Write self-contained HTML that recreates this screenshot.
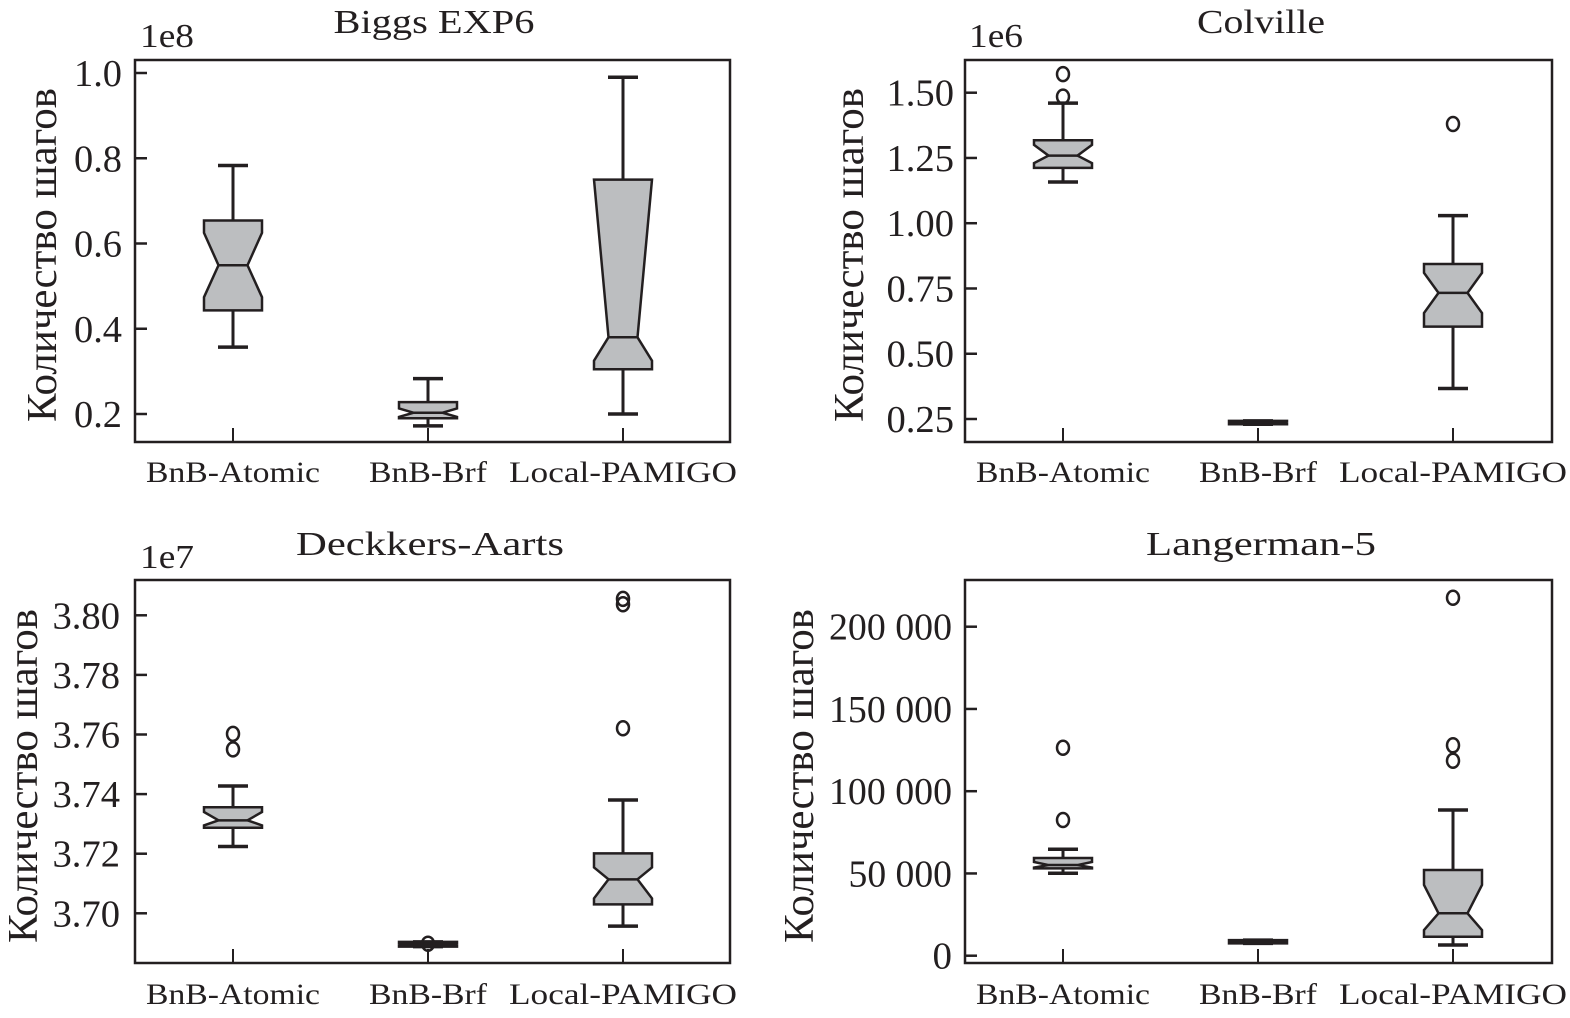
<!DOCTYPE html>
<html><head><meta charset="utf-8">
<style>
html,body{margin:0;padding:0;background:#fff;}
svg text{font-family:"Liberation Serif",serif;fill:#231f20;}
</style></head>
<body>
<svg id="fig" width="1570" height="1013" viewBox="0 0 1570 1013" xmlns="http://www.w3.org/2000/svg"></svg>
<script>
// ---- shared categories ----
const categories = ["BnB-Atomic", "BnB-Brf", "Local-PAMIGO"];

// ---- Panel 1: Biggs EXP6 (1e8) ----
const p1Whislo = [0.357, 0.172, 0.20];
const p1Q1     = [0.443, 0.190, 0.305];
const p1Med    = [0.549, 0.203, 0.380];
const p1Q3     = [0.654, 0.228, 0.750];
const p1Whishi = [0.783, 0.283, 0.990];
const p1NotchLo = [0.474, 0.193, 0.325];
const p1NotchHi = [0.625, 0.213, 0.750];
const p1Fliers = [[], [], []];
const p1Ticks = [0.2, 0.4, 0.6, 0.8, 1.0];
const p1TickLabels = ["0.2", "0.4", "0.6", "0.8", "1.0"];

// ---- Panel 2: Colville (1e6) ----
const p2Whislo = [1.158, 0.230, 0.367];
const p2Q1     = [1.212, 0.230, 0.604];
const p2Med    = [1.259, 0.236, 0.733];
const p2Q3     = [1.318, 0.243, 0.844];
const p2Whishi = [1.460, 0.243, 1.029];
const p2NotchLo = [1.230, 0.233, 0.656];
const p2NotchHi = [1.300, 0.240, 0.810];
const p2Fliers = [[1.485, 1.571], [], [1.380]];
const p2Ticks = [0.25, 0.50, 0.75, 1.00, 1.25, 1.50];
const p2TickLabels = ["0.25", "0.50", "0.75", "1.00", "1.25", "1.50"];

// ---- Panel 3: Deckkers-Aarts (1e7) ----
const p3Whislo = [3.7224, 3.6888, 3.6957];
const p3Q1     = [3.7287, 3.6888, 3.7030];
const p3Med    = [3.7312, 3.6896, 3.7114];
const p3Q3     = [3.7356, 3.6904, 3.7201];
const p3Whishi = [3.7427, 3.6904, 3.7380];
const p3NotchLo = [3.7295, 3.6892, 3.7050];
const p3NotchHi = [3.7340, 3.6900, 3.7154];
const p3Fliers = [[3.7550, 3.7602], [3.6898], [3.7621, 3.8037, 3.8055]];
const p3Ticks = [3.70, 3.72, 3.74, 3.76, 3.78, 3.80];
const p3TickLabels = ["3.70", "3.72", "3.74", "3.76", "3.78", "3.80"];

// ---- Panel 4: Langerman-5 ----
const p4Whislo = [50100, 7500, 6500];
const p4Q1     = [53100, 7500, 11550];
const p4Med    = [55100, 8500, 25800];
const p4Q3     = [59400, 9500, 52100];
const p4Whishi = [64700, 9500, 88600];
const p4NotchLo = [53600, 8000, 15600];
const p4NotchHi = [57000, 9000, 43000];
const p4Fliers = [[82500, 126400], [], [118500, 127900, 217600]];
const p4Ticks = [0, 50000, 100000, 150000, 200000];
const p4TickLabels = ["0", "50 000", "100 000", "150 000", "200 000"];

const NS = "http://www.w3.org/2000/svg";
const svg = document.getElementById("fig");
const INK = "#231f20";
function mk(tag, attrs, parent){
  const e = document.createElementNS(NS, tag);
  for (const k in attrs) e.setAttribute(k, attrs[k]);
  (parent||svg).appendChild(e);
  return e;
}
function labelWidth(s){
  let w=0; for (const c of s){ w += (c==='.')?9:(c===' ')?6:19.5; } return w;
}

const panels = [
  {key:"biggs", title:"Biggs EXP6", tx:434, ty:33, off:"1e8", ox:140, oy:47, L:135, R:730, T:60, B:442, y0:0.2, py0:414, y1:1.0, py1:73,
   ylx:56, yly:255, tickRight:122,
   wl:p1Whislo,q1:p1Q1,md:p1Med,q3:p1Q3,wh:p1Whishi,nl:p1NotchLo,nh:p1NotchHi,fl:p1Fliers,ticks:p1Ticks,tl:p1TickLabels, xlb:482},
  {key:"colville", title:"Colville", tx:1261, ty:33, off:"1e6", ox:969, oy:47, L:965, R:1552, T:60, B:442, y0:0.25, py0:419, y1:1.5, py1:92.7,
   ylx:863, yly:255, tickRight:954,
   wl:p2Whislo,q1:p2Q1,md:p2Med,q3:p2Q3,wh:p2Whishi,nl:p2NotchLo,nh:p2NotchHi,fl:p2Fliers,ticks:p2Ticks,tl:p2TickLabels, xlb:482},
  {key:"deckkers", title:"Deckkers-Aarts", tx:430, ty:555, off:"1e7", ox:140, oy:568, L:135, R:730, T:580, B:963, y0:3.70, py0:913.3, y1:3.80, py1:615.3,
   ylx:37, yly:776, tickRight:120,
   wl:p3Whislo,q1:p3Q1,md:p3Med,q3:p3Q3,wh:p3Whishi,nl:p3NotchLo,nh:p3NotchHi,fl:p3Fliers,ticks:p3Ticks,tl:p3TickLabels, xlb:1004},
  {key:"langerman", title:"Langerman-5", tx:1261, ty:555, off:"", ox:0, oy:0, L:965, R:1552, T:580, B:963, y0:0, py0:955.7, y1:200000, py1:626.7,
   ylx:813, yly:776, tickRight:952,
   wl:p4Whislo,q1:p4Q1,md:p4Med,q3:p4Q3,wh:p4Whishi,nl:p4NotchLo,nh:p4NotchHi,fl:p4Fliers,ticks:p4Ticks,tl:p4TickLabels, xlb:1004}
];
const titleW = {"Biggs EXP6":201, "Colville":128, "Deckkers-Aarts":268, "Langerman-5":230};
const xLabelW = {"BnB-Atomic":174, "BnB-Brf":118, "Local-PAMIGO":228};

panels.forEach(p => {
  const g = mk("g", {});
  
  
  const yS = v => p.py0 + (v - p.y0) * (p.py1 - p.py0) / (p.y1 - p.y0);
  const xS = i => p.L + 98 + 195 * i;

  const t = mk("text", {x:p.tx, y:p.ty, "text-anchor":"middle", "font-size":34, textLength:titleW[p.title], lengthAdjust:"spacingAndGlyphs"}, g);
  t.textContent = p.title;
  
  

  if (p.off){
    const o = mk("text", {x:p.ox, y:p.oy, "font-size":34, textLength:54, lengthAdjust:"spacingAndGlyphs"}, g);
    o.textContent = p.off;
    
    
  }

  const yl = mk("text", {x:0, y:0, "text-anchor":"middle", "font-size":42, textLength:334, lengthAdjust:"spacingAndGlyphs",
    transform:`translate(${p.ylx},${p.yly}) rotate(-90)`}, g);
  yl.textContent = "Количество шагов";
  
  

  p.ticks.forEach((v, i) => {
    const y = yS(v);
    const tk = mk("line", {x1:p.L, x2:p.L+12, y1:y, y2:y, stroke:INK, "stroke-width":2.5}, g);
    
    
    const s = p.tl[i];
    const tt = mk("text", {x:p.tickRight, y:y+13, "text-anchor":"end", "font-size":38, textLength:labelWidth(s), lengthAdjust:"spacingAndGlyphs"}, g);
    tt.textContent = s;
    
    
  });

  categories.forEach((c, i) => {
    const x = xS(i);
    const tk = mk("line", {x1:x, x2:x, y1:p.B, y2:p.B-14, stroke:INK, "stroke-width":2}, g);
    
    
    const tt = mk("text", {x:x, y:p.xlb, "text-anchor":"middle", "font-size":30, textLength:xLabelW[c], lengthAdjust:"spacingAndGlyphs"}, g);
    tt.textContent = c;
    
    
  });

  const hw = 29, nw = 14.5, cw = 15;
  categories.forEach((c, i) => {
    const x = xS(i);
    const bg = mk("g", {}, g);
    
    
    const wl = yS(p.wl[i]), q1 = yS(p.q1[i]), md = yS(p.md[i]), q3 = yS(p.q3[i]), wh = yS(p.wh[i]);
    const nl = yS(p.nl[i]), nh = yS(p.nh[i]);
    mk("line", {x1:x, x2:x, y1:q3, y2:wh, stroke:INK, "stroke-width":3}, bg);
    mk("line", {x1:x, x2:x, y1:q1, y2:wl, stroke:INK, "stroke-width":3}, bg);
    mk("line", {x1:x-cw, x2:x+cw, y1:wh, y2:wh, stroke:INK, "stroke-width":3.5}, bg);
    mk("line", {x1:x-cw, x2:x+cw, y1:wl, y2:wl, stroke:INK, "stroke-width":3.5}, bg);
    const pts = [[x-hw,q3],[x+hw,q3],[x+hw,nh],[x+nw,md],[x+hw,nl],[x+hw,q1],[x-hw,q1],[x-hw,nl],[x-nw,md],[x-hw,nh]];
    mk("polygon", {points:pts.map(q=>q.join(",")).join(" "), fill:"#bcbec0", stroke:INK, "stroke-width":2.5, "stroke-linejoin":"miter"}, bg);
    mk("line", {x1:x-nw, x2:x+nw, y1:md, y2:md, stroke:INK, "stroke-width":2.5}, bg);
    p.fl[i].forEach(v => {
      const f = mk("ellipse", {cx:x, cy:yS(v), rx:6, ry:7, fill:"none", stroke:INK, "stroke-width":2.5}, bg);
      
      
    });
  });

  const fr = mk("rect", {x:p.L, y:p.T, width:p.R-p.L, height:p.B-p.T, fill:"none", stroke:INK, "stroke-width":2.5}, g);
  
  
});
</script>
</body></html>
